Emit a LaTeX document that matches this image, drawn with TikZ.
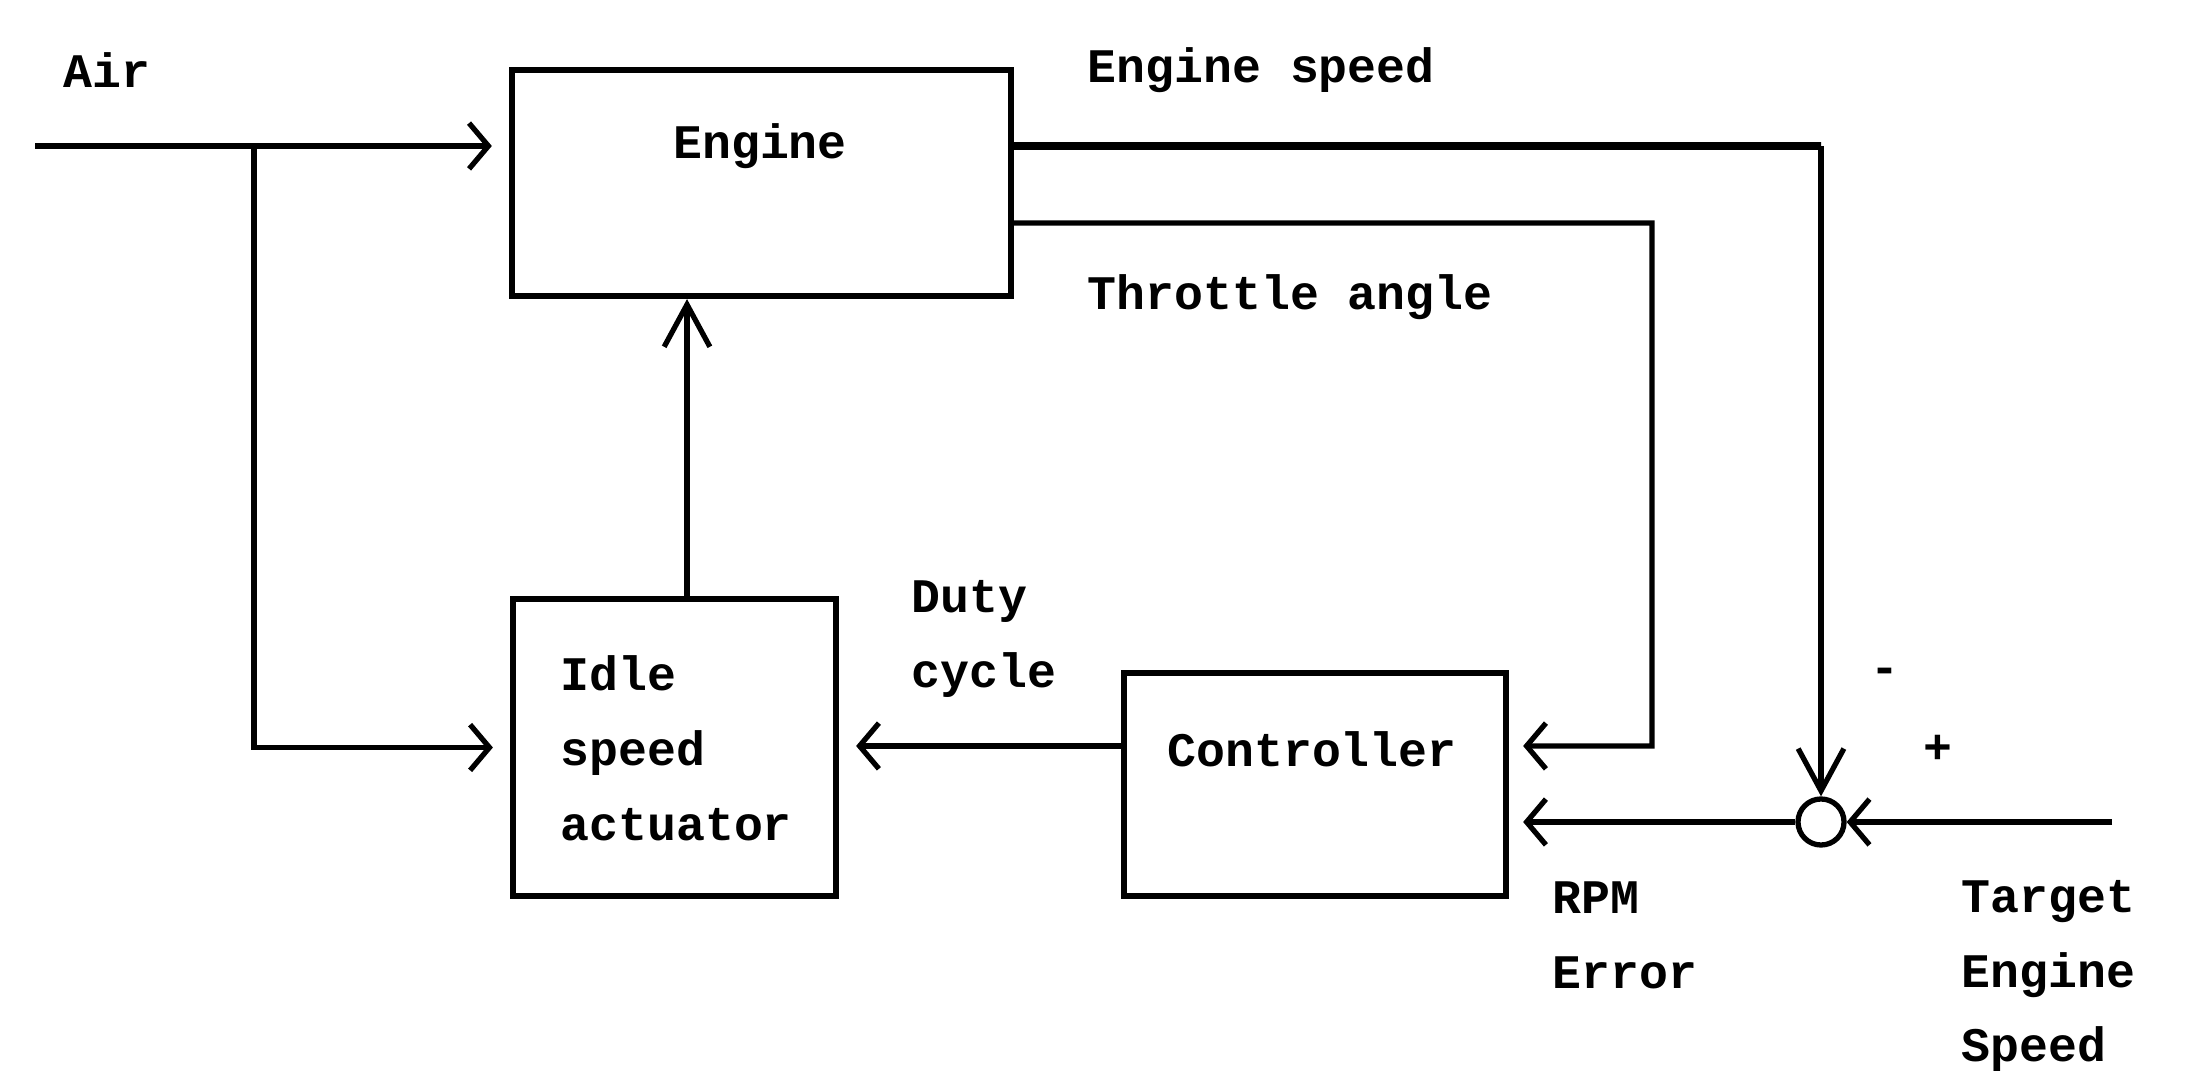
\documentclass[tikz,border=0pt]{standalone}
\usepackage{fontspec}
\setmonofont{Liberation Mono}
\usetikzlibrary{
    arrows.meta,
    positioning
}

\begin{document}
\begin{tikzpicture}[x=0.01cm,y=-0.01cm,line width=1.5pt,
    block/.style={draw,line width=1.7pt,inner sep=0pt},
    lbl/.style={font=\ttfamily\bfseries\fontsize{13.7}{21.3}\selectfont,
                inner sep=0pt,align=left},
    harr/.style={-{Straight Barb[length=5.5pt,width=13pt]}},
    varr/.style={-{Straight Barb[length=12pt,width=13pt]}}
]

\useasboundingbox (0,0) rectangle (2186,1077);

% Blocks
\node[block,minimum width=4.99cm,minimum height=2.26cm] (engine) at (761.5,183) {};
\node[block,minimum width=3.23cm,minimum height=2.97cm] (idle) at (674.5,747.5) {};
\node[block,minimum width=3.82cm,minimum height=2.23cm] (ctrl) at (1315,784.5) {};
\node[draw,circle,minimum size=0.46cm,inner sep=0pt] (sum) at (1821,822) {};

% Labels
\node[lbl] (airLbl) at (107,70) {Air};
\node[lbl] (engineLbl) at (760,146) {Engine};
\node[lbl,anchor=west] (speedLbl) at (1085,70) {Engine speed};
\node[lbl,anchor=west] (throttleLbl) at (1085,297) {Throttle angle};
\node[lbl,anchor=west] (idleLbl) at (558,748) {Idle\\speed\\actuator};
\node[lbl,anchor=west] (dutyLbl) at (909,639) {Duty\\cycle};
\node[lbl] (ctrlLbl) at (1312,749) {Controller};
\node[lbl] (minusLbl) at (1885,676) {-};
\node[lbl] (plusLbl) at (1938,749) {+};
\node[lbl,anchor=west] (errLbl) at (1550,935) {RPM\\Error};
\node[lbl,anchor=west] (targetLbl) at (1959,976) {Target\\Engine\\Speed};

% Air
\coordinate (air) at (35,146);
\coordinate (split) at (254,146);
\draw[harr,shorten >=0.17cm] (air) -- (engine.west |- air);
\draw[harr,shorten >=0.17cm] (split) |- (idle.west);

% Actuator into engine
\draw[varr] ([xshift=0.125cm]idle.north) -- ([xshift=0.125cm]idle.north |- engine.south);

% Engine speed feedback
\coordinate (spdTurn) at (1821,146);
\draw[line width=2.2pt] ([yshift=0.37cm]engine.east) -- (spdTurn);
\draw[varr] (spdTurn) -- (sum.north);

% Throttle angle
\coordinate (thr) at (1652,223);
\draw[harr,shorten >=0.14cm] ([yshift=-0.4cm]engine.east) -- (thr) |- ([yshift=0.385cm]ctrl.east);

% Duty cycle
\draw[harr,shorten >=0.17cm] ([yshift=0.385cm]ctrl.west) -- ([yshift=0.385cm]ctrl.west -| idle.east);

% RPM error and target
\coordinate (target) at (2112,822);
\draw[harr,shorten >=0.14cm] (sum.west) -- (sum.west -| ctrl.east);
\draw[harr] (target) -- (sum.east);

\end{tikzpicture}
\end{document}
